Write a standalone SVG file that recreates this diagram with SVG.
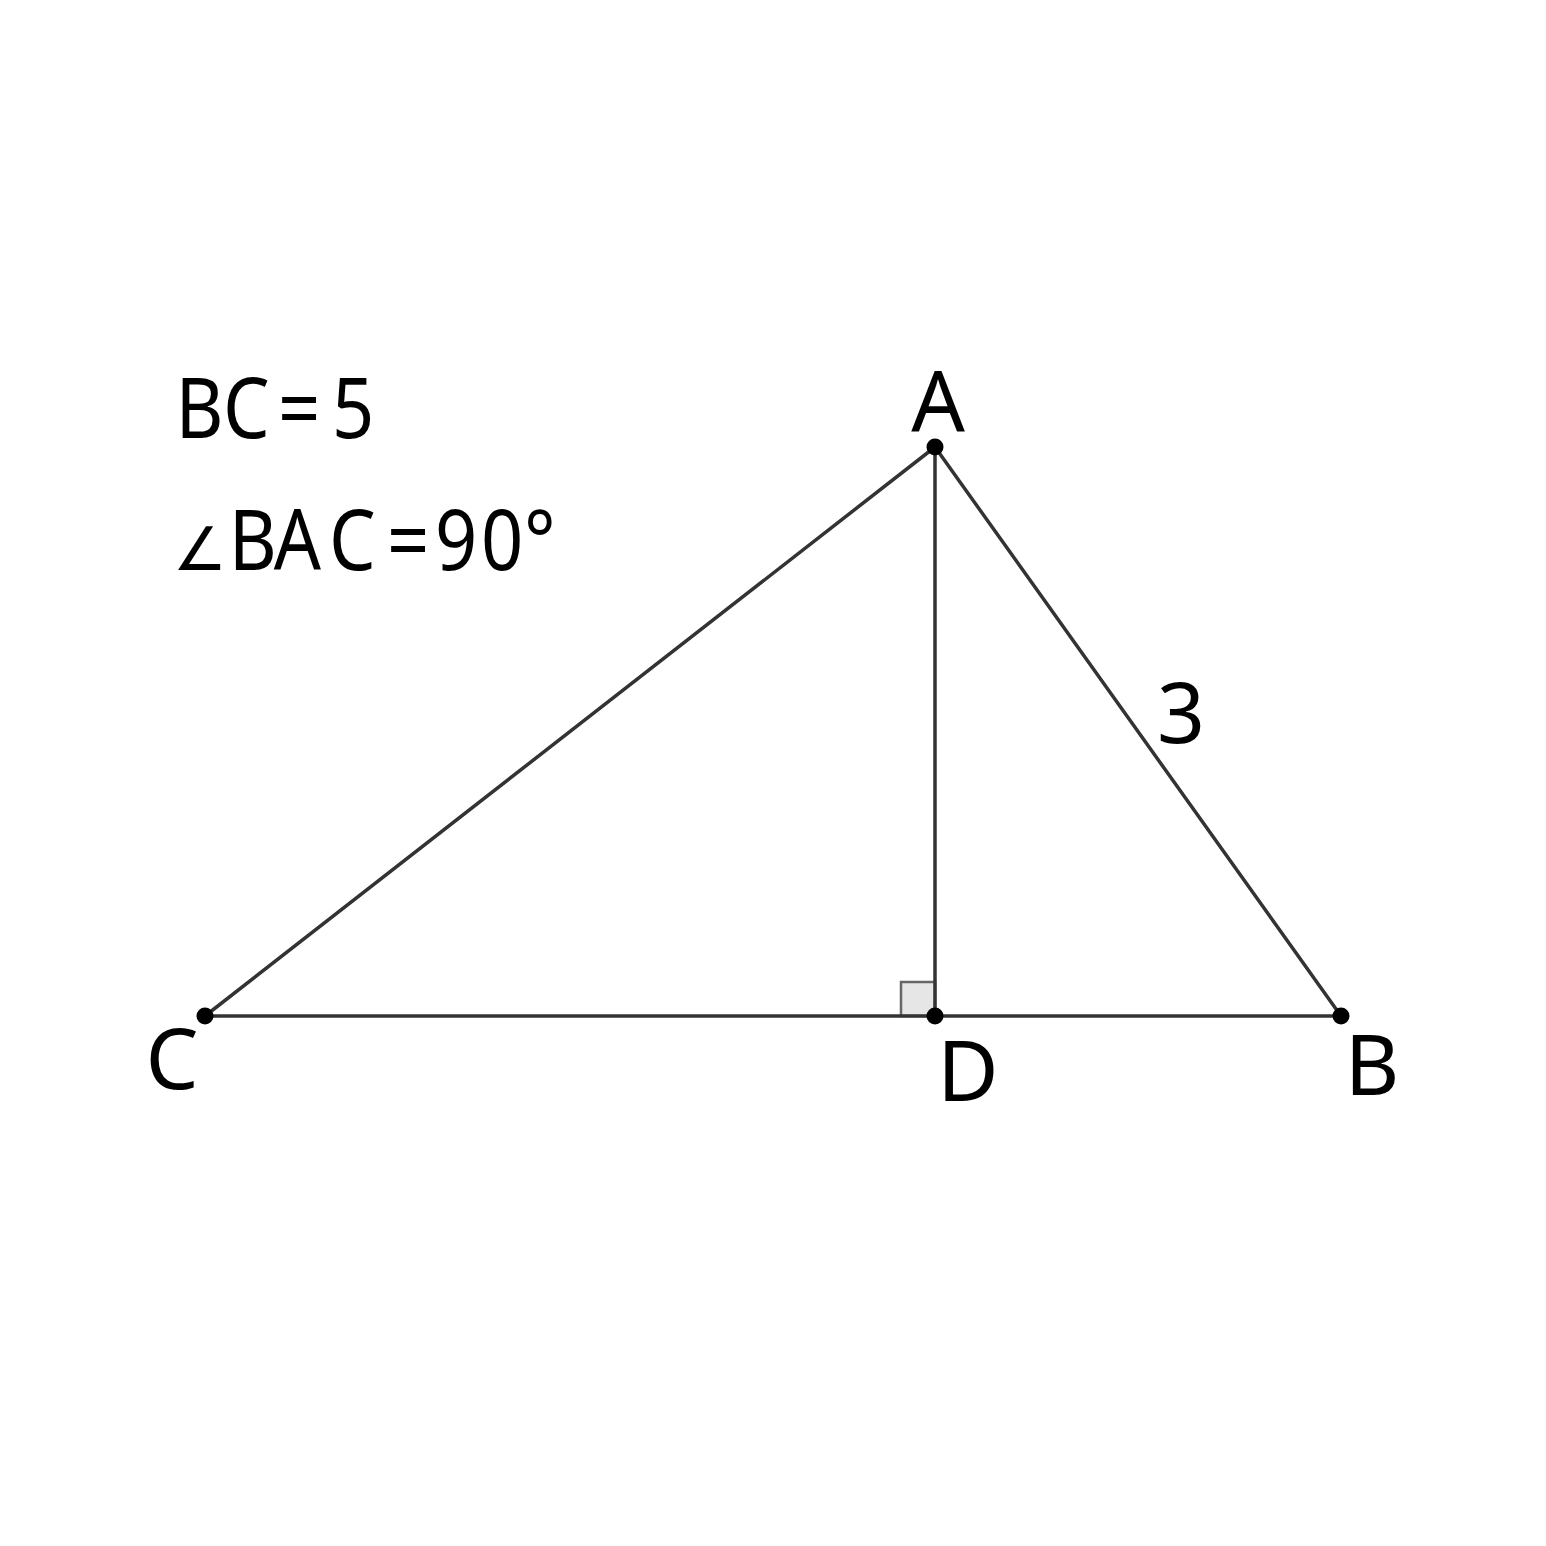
<svg xmlns="http://www.w3.org/2000/svg" width="1546" height="1546" viewBox="0 0 1546 1546">
<style>
.ln{stroke:#333;stroke-width:3.5;fill:none;stroke-linecap:round}
.pt{fill:#000}
.lb{font-family:"Noto Sans","Open Sans","DejaVu Sans",sans-serif;font-size:84px;fill:#000}
.gv{font-family:"Noto Sans","Open Sans","DejaVu Sans",sans-serif;font-size:84px;fill:#000}
.ang{font-family:"Noto Sans","Open Sans","DejaVu Sans",sans-serif;font-size:60px;fill:#000}
</style>
<rect width="1546" height="1546" fill="#fff"/>
<g id="right-angle"><rect x="901" y="982" width="34" height="34" fill="#e6e6e6" stroke="#666" stroke-width="2.5"/></g>
<g id="connectors">
<line class="ln" x1="935" y1="447" x2="205" y2="1016"/>
<line class="ln" x1="935" y1="447" x2="1341" y2="1016"/>
<line class="ln" x1="205" y1="1016" x2="1341" y2="1016"/>
<line class="ln" x1="935" y1="447" x2="935" y2="1016"/>
</g>
<g id="A"><circle class="pt" cx="935" cy="447" r="8.5"/><text class="lb" x="938" y="432" text-anchor="middle">A</text></g>
<g id="B"><circle class="pt" cx="1341" cy="1016" r="8.5"/><text class="lb" x="1372" y="1095" text-anchor="middle">B</text></g>
<g id="C"><circle class="pt" cx="205" cy="1016" r="8.5"/><text class="lb" x="172" y="1089" text-anchor="middle">C</text></g>
<g id="D"><circle class="pt" cx="935" cy="1016" r="8.5"/><text class="lb" x="968" y="1101" text-anchor="middle">D</text></g>
<g id="side-label"><text class="lb" x="1181" y="743" text-anchor="middle">3</text></g>
<g id="given">
<text class="gv" y="438" transform="matrix(0.88,0,0,1,0,0)"><tspan x="199.3">B</tspan><tspan x="253.4">C</tspan><tspan x="315.9">=</tspan><tspan x="377.3">5</tspan></text>
<text class="ang" x="173" y="570">∠</text>
<text class="gv" y="570" transform="matrix(0.88,0,0,1,0,0)"><tspan x="260">B</tspan><tspan x="311">A</tspan><tspan x="373.9">C</tspan><tspan x="439.8">=</tspan><tspan x="494.3">9</tspan><tspan x="546.6">0</tspan><tspan x="595.5">°</tspan></text>
</g>
</svg>
